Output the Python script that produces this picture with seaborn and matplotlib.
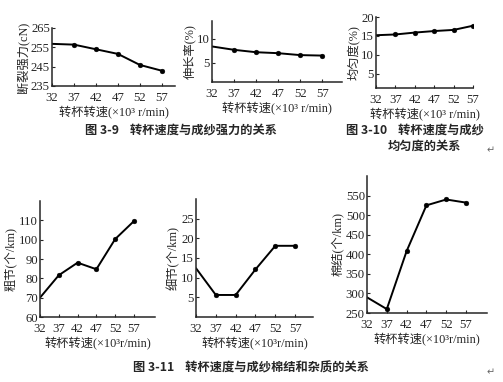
import matplotlib
matplotlib.use('Agg')
import matplotlib.pyplot as plt
import seaborn as sns

sns.set_style('ticks')
plt.rcParams['font.family'] = ['Liberation Serif', 'Noto Sans CJK SC', 'DejaVu Sans']
plt.rcParams['axes.unicode_minus'] = False

# rotor speed (x10^3 r/min)
speed = [32, 37, 42, 47, 52, 57]
xticks = [32, 37, 42, 47, 52, 57]

# Fig 3-9
strength = [256.8, 256.4, 254.0, 251.6, 245.9, 242.9]
elongation = [8.4, 7.7, 7.2, 7.0, 6.6, 6.5]
# Fig 3-10
evenness = [15.2, 15.4, 15.9, 16.3, 16.6, 17.7]
# Fig 3-11
thick = [70.0, 81.6, 88.1, 84.7, 100.3, 109.6]
thin = [12.4, 5.6, 5.6, 12.1, 18.1, 18.1]
neps = [290, 260, 408, 525, 540, 532]

xlabel = '转杯转速(×10³ r/min)'
xlabel2 = '转杯转速(×10³r/min)'

fig = plt.figure(figsize=(5.03, 3.82), dpi=100)
W, H = 503, 382


def make_ax(left, top, right, bottom):
    return fig.add_axes([left / W, 1 - bottom / H, (right - left) / W, (bottom - top) / H])


panels = [
    # values, box(px), xlim, ylim, yticks, ylabel, xlabel
    (strength, (52, 28, 175, 86), (32, 60), (235, 265), [235, 245, 255, 265], '断裂强力(cN)', xlabel),
    (elongation, (212, 21, 342, 82), (32, 61.5), (1, 13.7), [5, 10], '伸长率(%)', xlabel),
    (evenness, (376, 17, 473, 88), (32, 57), (1.3, 20), [5, 10, 15, 20], '均匀度(%)', xlabel),
    (thick, (40, 201, 155, 317), (32, 62.6), (60, 120), [60, 70, 80, 90, 100, 110], '粗节(个/km)', xlabel2),
    (thin, (196, 199, 313, 317), (32, 61.5), (0, 30), [5, 10, 15, 20, 25], '细节(个/km)', xlabel2),
    (neps, (367, 176, 487, 313), (32, 62.3), (250, 600), [250, 300, 350, 400, 450, 500, 550], '棉结(个/km)', xlabel2),
]

for vals, box, xl, yl, yt, ylab, xlab in panels:
    ax = make_ax(*box)
    sns.lineplot(x=speed, y=vals, ax=ax, color='black', linewidth=1.4)
    sns.scatterplot(x=speed[1:], y=vals[1:], ax=ax, color='black', s=12, edgecolor='black', zorder=3)
    ax.set_xlim(*xl)
    ax.set_ylim(*yl)
    ax.set_xticks(xticks)
    ax.set_yticks(yt)
    ax.tick_params(direction='in', length=2.5, width=0.8, labelsize=9.2)
    ax.tick_params(axis='x', pad=4)
    ax.tick_params(axis='y', pad=1.5)
    ax.set_ylabel(ylab, fontsize=8.8, labelpad=1)
    ax.set_xlabel(xlab, fontsize=8.8, labelpad=1)
    for s in ['top', 'right']:
        ax.spines[s].set_visible(False)
    for s in ['left', 'bottom']:
        ax.spines[s].set_linewidth(1.1)
    ax.set_facecolor('white')

cap = dict(fontsize=8.8, fontweight='bold', family=['Noto Sans CJK SC', 'DejaVu Sans'])
fig.text(85 / W, 1 - 130 / H, '图 3-9    转杯速度与成纱强力的关系', va='center', **cap)
fig.text(346 / W, 1 - 130 / H, '图 3-10    转杯速度与成纱', va='center', **cap)
fig.text(388 / W, 1 - 146 / H, '均匀度的关系', va='center', **cap)
fig.text(133 / W, 1 - 368 / H, '图 3-11    转杯速度与成纱棉结和杂质的关系', va='center', **cap)
fig.text(487 / W, 1 - 150 / H, '↵', fontsize=7, color='#666666', family='DejaVu Sans', va='center')
fig.text(487 / W, 1 - 372 / H, '↵', fontsize=7, color='#666666', family='DejaVu Sans', va='center')

fig.savefig('out.png', dpi=100, facecolor='white')
